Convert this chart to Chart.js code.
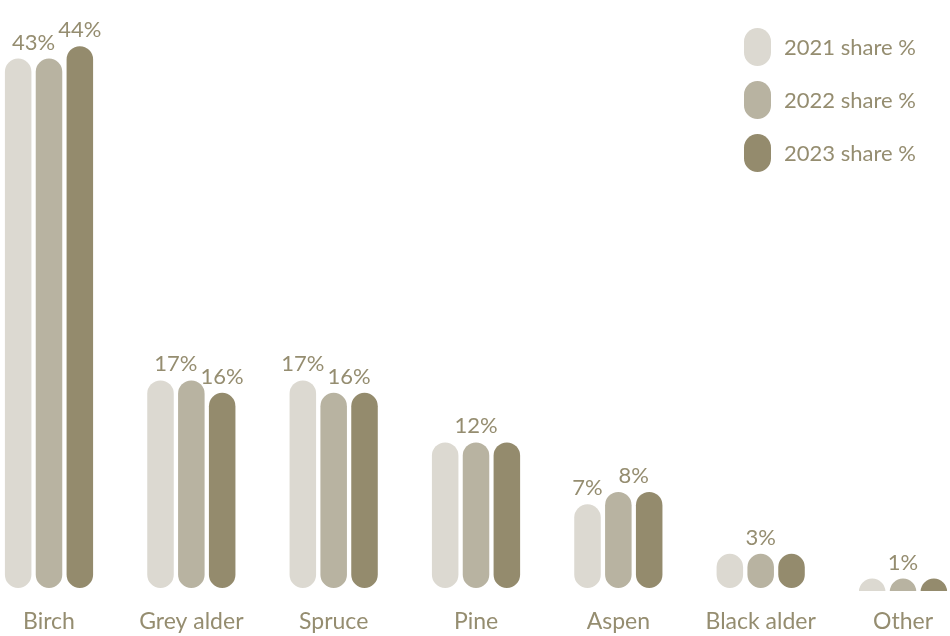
<!DOCTYPE html>
<html>
<head>
<meta charset="utf-8">
<script src="https://cdn.jsdelivr.net/npm/chart.js@4"></script>
<style>
  body { margin: 0; background: #fff; }
</style>
</head>
<body>
<canvas id="shareChart" width="950" height="636"></canvas>
<script>
const categories = ['Birch', 'Grey alder', 'Spruce', 'Pine', 'Aspen', 'Black alder', 'Other'];
const share2021 = [43, 17, 17, 12, 7, 3, 1];
const share2022 = [43, 17, 16, 12, 8, 3, 1];
const share2023 = [44, 16, 16, 12, 8, 3, 1];
const seriesLabels = ['2021 share %', '2022 share %', '2023 share %'];
const seriesColors = ['#dcd9d1', '#b8b3a1', '#948b6d'];
const textColor = '#958d70';
const fontFamily = "Lato, 'Open Sans', sans-serif";

// bars as pills: round top and bottom, short bars become a clipped half circle
const pillBars = {
  id: 'pillBars',
  beforeDatasetDraw(chart, args) {
    const ctx = chart.ctx;
    const color = chart.data.datasets[args.index].backgroundColor;
    ctx.save();
    ctx.beginPath();
    ctx.rect(0, 0, chart.width, chart.chartArea.bottom);
    ctx.clip();
    ctx.fillStyle = color;
    args.meta.data.forEach(bar => {
      const r = bar.width / 2;
      const top = bar.y;
      const bottom = Math.max(bar.base - 3, top + bar.width);
      ctx.beginPath();
      ctx.arc(bar.x, top + r, r, Math.PI, 0);
      ctx.arc(bar.x, bottom - r, r, 0, Math.PI);
      ctx.closePath();
      ctx.fill();
    });
    ctx.restore();
    return false;
  }
};

// one label per run of equal values, centred over those bars
const valueLabels = {
  id: 'valueLabels',
  afterDatasetsDraw(chart) {
    const ctx = chart.ctx;
    const sets = chart.data.datasets;
    const metas = sets.map((d, i) => chart.getDatasetMeta(i));
    ctx.save();
    ctx.font = `22px ${fontFamily}`;
    ctx.fillStyle = textColor;
    ctx.textAlign = 'center';
    ctx.textBaseline = 'alphabetic';
    categories.forEach((c, i) => {
      let j = 0;
      while (j < sets.length) {
        const v = sets[j].data[i];
        let k = j;
        while (k + 1 < sets.length && sets[k + 1].data[i] === v) k++;
        const first = metas[j].data[i];
        const last = metas[k].data[i];
        ctx.fillText(v + '%', (first.x + last.x) / 2, first.y - 9);
        j = k + 1;
      }
    });
    ctx.restore();
  }
};

const pillLegend = {
  id: 'pillLegend',
  afterDraw(chart) {
    const ctx = chart.ctx;
    ctx.save();
    ctx.font = `22px ${fontFamily}`;
    ctx.textBaseline = 'middle';
    ctx.textAlign = 'left';
    chart.data.datasets.forEach((ds, i) => {
      const x = 744, w = 27, h = 38;
      const top = 28 + i * 53;
      const r = w / 2;
      ctx.fillStyle = ds.backgroundColor;
      ctx.beginPath();
      ctx.arc(x + r, top + r, r, Math.PI, 0);
      ctx.arc(x + r, top + h - r, r, 0, Math.PI);
      ctx.closePath();
      ctx.fill();
      ctx.fillStyle = textColor;
      ctx.fillText(ds.label, 784, top + h / 2 + 1);
    });
    ctx.restore();
  }
};

const ctx = document.getElementById('shareChart').getContext('2d');
new Chart(ctx, {
  type: 'bar',
  data: {
    labels: categories,
    datasets: [share2021, share2022, share2023].map((vals, i) => ({
      label: seriesLabels[i],
      data: vals,
      backgroundColor: seriesColors[i],
      categoryPercentage: 0.65,
      barPercentage: 0.86,
      clip: false
    }))
  },
  options: {
    responsive: false,
    animation: false,
    devicePixelRatio: 1,
    layout: { padding: { left: 49, right: 44, top: 9, bottom: 0 } },
    plugins: {
      legend: { display: false },
      tooltip: { enabled: false }
    },
    scales: {
      x: {
        offset: false,
        grid: { display: false, drawTicks: false },
        border: { display: false },
        ticks: {
          color: textColor,
          font: { family: fontFamily, size: 23 },
          padding: 17,
          maxRotation: 0,
          autoSkip: false
        },
        afterFit(scale) { scale.height = 45; }
      },
      y: { display: false, min: 0, max: 47 }
    }
  },
  plugins: [pillBars, valueLabels, pillLegend]
});
</script>
</body>
</html>
